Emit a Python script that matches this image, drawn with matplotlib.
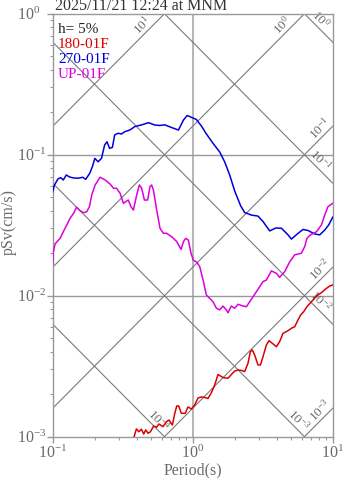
import numpy as np
import matplotlib
matplotlib.use("Agg")
import matplotlib.pyplot as plt

plt.rcParams["font.family"] = "serif"
plt.rcParams["font.serif"] = ["Liberation Serif", "DejaVu Serif"]
plt.rcParams["mathtext.fontset"] = "custom"
plt.rcParams["mathtext.rm"] = "Liberation Serif"
plt.rcParams["mathtext.it"] = "Liberation Serif:italic"
plt.rcParams["mathtext.bf"] = "Liberation Serif:bold"

# ---- response spectra (h = 5 %) : period (s) and pseudo velocity (cm/s) ----
period_ns = [0.100, 0.103, 0.109, 0.114, 0.119, 0.125, 0.132, 0.141, 0.152, 0.164,
             0.172, 0.184, 0.192, 0.200, 0.211, 0.223, 0.235, 0.244, 0.255, 0.267,
             0.277, 0.293, 0.310, 0.327, 0.355, 0.387, 0.430, 0.483, 0.535, 0.581,
             0.631, 0.705, 0.791, 0.859, 0.914, 0.984, 1.062, 1.153, 1.239, 1.396,
             1.560, 1.694, 1.837, 1.995, 2.203, 2.350, 2.624, 2.926, 3.177, 3.548,
             3.917, 4.303, 4.797, 5.070, 5.534, 6.134, 6.668, 7.430, 8.072, 8.770,
             9.354, 10.0]
psv_ew = [0.0547, 0.0610, 0.0673, 0.0687, 0.0662, 0.0718, 0.0695, 0.0684, 0.0681, 0.0692,
          0.0669, 0.0738, 0.0822, 0.0942, 0.0891, 0.0942, 0.1172, 0.1236, 0.1110, 0.1127,
          0.1380, 0.1419, 0.1403, 0.1455, 0.1496, 0.1585, 0.1625, 0.1687, 0.1625, 0.1611,
          0.1629, 0.1560, 0.1496, 0.1762, 0.1897, 0.1837, 0.1778, 0.1600, 0.1426, 0.1205,
          0.1045, 0.0887, 0.0718, 0.0553, 0.0433, 0.0389, 0.0373, 0.0367, 0.0336, 0.0288,
          0.0302, 0.0301, 0.0270, 0.0252, 0.0272, 0.0295, 0.0290, 0.0274, 0.0270, 0.0292,
          0.0317, 0.0360]

period_ud = [0.100, 0.101, 0.104, 0.110, 0.113, 0.119, 0.126, 0.133, 0.141, 0.148,
             0.157, 0.166, 0.175, 0.183, 0.190, 0.201, 0.218, 0.237, 0.257, 0.272,
             0.286, 0.303, 0.320, 0.332, 0.347, 0.362, 0.377, 0.398, 0.416, 0.432,
             0.452, 0.477, 0.495, 0.509, 0.524, 0.553, 0.584, 0.618, 0.652, 0.708,
             0.769, 0.825, 0.859, 0.891, 0.931, 0.972, 1.012, 1.069, 1.122, 1.186,
             1.253, 1.322, 1.396, 1.477, 1.560, 1.644, 1.742, 1.786, 1.888, 1.995,
             2.109, 2.286, 2.421, 2.553, 2.698, 2.926, 3.177, 3.357, 3.648, 3.963,
             4.178, 4.539, 4.932, 5.358, 5.970, 6.310, 6.546, 6.934, 7.656, 8.299,
             8.770, 9.247, 10.0]
psv_ud = [0.0168, 0.0204, 0.0233, 0.0248, 0.0255, 0.0284, 0.0317, 0.0354, 0.0384, 0.0424,
          0.0401, 0.0388, 0.0394, 0.0428, 0.0518, 0.0610, 0.0692, 0.0662, 0.0619, 0.0578,
          0.0578, 0.0532, 0.0452, 0.0464, 0.0477, 0.0428, 0.0405, 0.0518, 0.0610, 0.0578,
          0.0477, 0.0477, 0.0593, 0.0610, 0.0562, 0.0405, 0.0301, 0.0277, 0.0277, 0.0262,
          0.0242, 0.0213, 0.0242, 0.0255, 0.0248, 0.0200, 0.0178, 0.0173, 0.0161, 0.0129,
          0.0101, 0.00959, 0.00906, 0.00815, 0.00793, 0.00845, 0.00793, 0.00757, 0.00845, 0.00815,
          0.00869, 0.00845, 0.00836, 0.00906, 0.00984, 0.0111, 0.0126, 0.0129, 0.0150, 0.0144,
          0.0135, 0.0148, 0.0174, 0.0195, 0.0200, 0.0223, 0.0255, 0.0270, 0.0284, 0.0317,
          0.0373, 0.0428, 0.0452]

period_ns_180 = [0.355, 0.381, 0.396, 0.413, 0.430, 0.447, 0.462, 0.480, 0.499, 0.526,
                 0.551, 0.574, 0.614, 0.649, 0.678, 0.716, 0.743, 0.769, 0.794, 0.830,
                 0.884, 0.925, 0.979, 1.033, 1.091, 1.153, 1.219, 1.285, 1.360, 1.436,
                 1.517, 1.644, 1.786, 1.888, 1.995, 2.109, 2.228, 2.350, 2.483, 2.582,
                 2.667, 2.773, 2.926, 3.048, 3.177, 3.357, 3.508, 3.707, 3.963, 4.178,
                 4.416, 4.797, 5.070, 5.358, 5.649, 5.902, 6.209, 6.546, 7.047, 7.430,
                 7.852, 8.299, 9.016, 9.527, 10.0]
psv_180 = [0.000873, 0.000995, 0.001135, 0.001084, 0.001130, 0.001045, 0.001117, 0.001057, 0.001084, 0.001191,
           0.001167, 0.001230, 0.001178, 0.001277, 0.001313, 0.001210, 0.001450, 0.001652, 0.001652, 0.001466,
           0.001466, 0.001626, 0.001571, 0.001679, 0.001880, 0.001914, 0.001897, 0.001866, 0.002051, 0.002328,
           0.002761, 0.002630, 0.002594, 0.002761, 0.002924, 0.002972, 0.002951, 0.002897, 0.003319, 0.004009,
           0.004121, 0.003793, 0.003228, 0.003228, 0.003690, 0.004467, 0.004797, 0.004592, 0.004345, 0.004721,
           0.005408, 0.005649, 0.005875, 0.006026, 0.006730, 0.007295, 0.007709, 0.008356, 0.009057, 0.009594,
           0.01012, 0.0105, 0.01127, 0.01172, 0.0119]

series_names = ["180-01F", "270-01F", "UP-01F"]
series_colors = ["#dd0000", "#0000dd", "#dd00dd"]
damping_label = "h= 5%"
title_text = "2025/11/21 12:24 at MNM"

# tripartite guide lines: acceleration (cm/s^2) and displacement (cm) decades
accel_levels = [1e1, 1e0, 1e-1, 1e-2, 1e-3]
disp_levels = [1e0, 1e-1, 1e-2, 1e-3, 1e-4]

T_MIN, T_MAX = 0.1, 10.0
V_MIN, V_MAX = 1e-3, 1.0

W, H = 347, 478
fig = plt.figure(figsize=(W / 100, H / 100), dpi=100)
ax = fig.add_axes([52.7 / W, (H - 436.7) / H, 280 / W, 423 / H])
ax.set_xscale("log")
ax.set_yscale("log")
ax.set_xlim(T_MIN, T_MAX)
ax.set_ylim(V_MIN, V_MAX)

grey_txt = "#6a6a6a"
line_grey = "#7a7a7a"

# grid on decades
ax.axvline(1.0, color="#a8a8a8", lw=1.2, zorder=1)
for v in [1e-1, 1e-2]:
    ax.axhline(v, color="#999999", lw=1.0, zorder=1)

two_pi = 2 * np.pi
tt = np.geomspace(T_MIN, T_MAX, 400)


def put_label(t_anchor, sv_anchor, rot, exponent):
    ax.text(t_anchor, sv_anchor, r"$10^{%d}$" % exponent, rotation=rot,
            rotation_mode="anchor", ha="center", va="bottom",
            fontsize=9.5, color=grey_txt, zorder=2)


for a in accel_levels:
    ax.plot(tt, a * tt / two_pi, color=line_grey, lw=0.8, zorder=1)
    t_top = two_pi * V_MAX / a
    if t_top < T_MAX:
        ta = t_top * 10 ** (-17 / 140)
    else:
        ta = 8.9
    put_label(ta, a * ta / two_pi, 45, int(round(np.log10(a))))

for d in disp_levels:
    ax.plot(tt, two_pi * d / tt, color=line_grey, lw=0.8, zorder=1)
    t_bot = two_pi * d / V_MIN
    if t_bot < T_MAX:
        ta = t_bot * 10 ** (-11 / 140)
    else:
        ta = 7.5
    put_label(ta, two_pi * d / ta, -45, int(round(np.log10(d))))

# spectra
ax.plot(period_ns_180, psv_180, color=series_colors[0], lw=1.1, zorder=3)
ax.plot(period_ns, psv_ew, color=series_colors[1], lw=1.1, zorder=3)
ax.plot(period_ud, psv_ud, color=series_colors[2], lw=1.1, zorder=3)

# frame and ticks
for s in ax.spines.values():
    s.set_color("#999999")
    s.set_linewidth(1.0)
ax.tick_params(which="both", direction="out", colors="#999999",
               labelcolor=grey_txt, top=False, right=False)
ax.tick_params(which="major", length=4, width=1.0, labelsize=11.5)
ax.tick_params(which="minor", length=2.5, width=0.8)
ax.tick_params(axis="y", which="major", pad=21.5)
ax.tick_params(axis="x", which="major", pad=1.5)
for lab in ax.get_yticklabels():
    lab.set_horizontalalignment("left")

# legend block
ys = [0.954, 0.919, 0.884, 0.849]
ax.text(0.019, ys[0], damping_label, transform=ax.transAxes, fontsize=11,
        color="#222222", va="baseline", zorder=4)
for name, col, y in zip(series_names, series_colors, ys[1:]):
    ax.text(0.019, y, name, transform=ax.transAxes, fontsize=11,
            color=col, va="baseline", zorder=4)

fig.text(55 / W, (H - 10.5) / H, title_text, fontsize=11.5, color="#333333",
         ha="left", va="baseline")
fig.text(193 / W, (H - 474.5) / H, "Period(s)", fontsize=11.5, color=grey_txt,
         ha="center", va="baseline")
fig.text(12.5 / W, (H - 222) / H, "pSv(cm/s)", fontsize=11.5, color=grey_txt,
         rotation=90, rotation_mode="anchor", ha="center", va="baseline")

fig.savefig("out.png", dpi=100)
